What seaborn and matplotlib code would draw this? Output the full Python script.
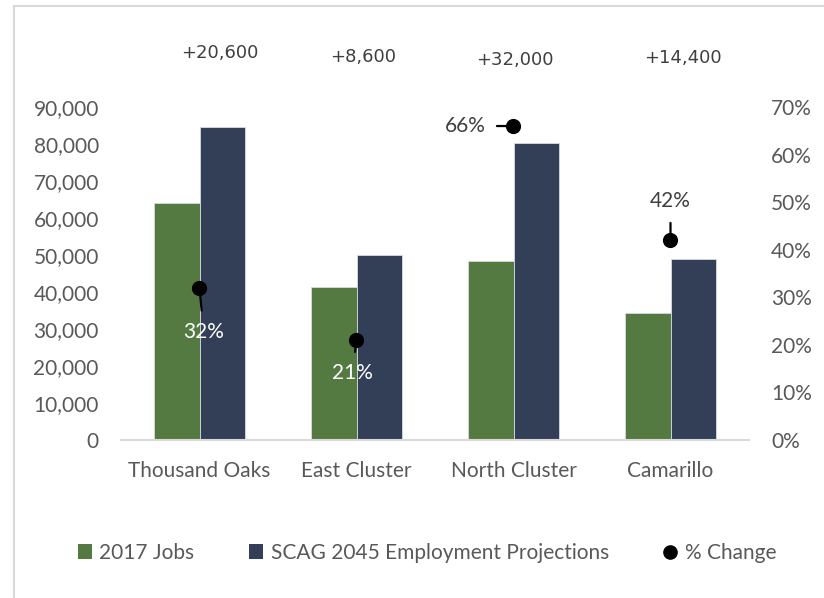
import numpy as np
import pandas as pd
import matplotlib
matplotlib.use("Agg")
import matplotlib.pyplot as plt
from matplotlib.lines import Line2D
from matplotlib.patches import Patch
from matplotlib.ticker import FuncFormatter
import matplotlib.transforms as mtransforms
import seaborn as sns

# --- data -------------------------------------------------------------
regions = ["Thousand Oaks", "East Cluster", "North Cluster", "Camarillo"]
jobs_2017 = [64000, 41400, 48400, 34400]
jobs_2045 = [84600, 50000, 80400, 48800]
job_growth = [20600, 8600, 32000, 14400]
pct_change = [0.32, 0.21, 0.66, 0.42]
series_names = ["2017 Jobs", "SCAG 2045 Employment Projections"]
pct_name = "% Change"
left_ticks = [0, 10000, 20000, 30000, 40000, 50000, 60000, 70000, 80000, 90000]
right_ticks = [0, 0.1, 0.2, 0.3, 0.4, 0.5, 0.6, 0.7]

# --- style ------------------------------------------------------------
GREEN = "#547a42"
NAVY = "#323f57"
GREY_TXT = "#595959"
DARK_TXT = "#404040"
AXIS_GREY = "#d9d9d9"

sns.set_theme(style="white")
plt.rcParams["font.family"] = ["Lato", "DejaVu Sans"]
FS = 15

df = pd.DataFrame({
    "Region": regions * 2,
    "Jobs": jobs_2017 + jobs_2045,
    "Series": [series_names[0]] * len(regions) + [series_names[1]] * len(regions),
})

fig = plt.figure(figsize=(8.24, 5.98), dpi=100)
ax = fig.add_axes([121 / 824, 1 - 440 / 598, (749 - 121) / 824, (440 - 107) / 598])

sns.barplot(data=df, x="Region", y="Jobs", hue="Series", order=regions,
            hue_order=series_names, palette=[GREEN, NAVY], saturation=1,
            width=0.575, gap=0, legend=False, ax=ax,
            edgecolor="#d6dbe2", linewidth=0.6, errorbar=None)

ax.set_xlim(-0.5, len(regions) - 0.5)
ax.set_ylim(left_ticks[0], left_ticks[-1])
ax.set_yticks(left_ticks)
ax.yaxis.set_major_formatter(FuncFormatter(lambda v, p: f"{int(v):,}"))
ax.set_xlabel("")
ax.set_ylabel("")
ax.tick_params(axis="both", length=0, labelsize=FS, labelcolor=GREY_TXT)
ax.tick_params(axis="y", pad=16)
ax.tick_params(axis="x", pad=15)
for side in ["top", "left", "right"]:
    ax.spines[side].set_visible(False)
ax.spines["bottom"].set_color(AXIS_GREY)
ax.spines["bottom"].set_linewidth(1.5)

# --- percent change on the secondary axis --------------------------------
ax2 = ax.twinx()
xpos = np.arange(len(regions))
sns.scatterplot(x=xpos, y=pct_change, color="black", s=120, ax=ax2,
                edgecolor="black", linewidth=0, zorder=5, legend=False)
ax2.set_ylim(right_ticks[0], right_ticks[-1])
ax2.set_yticks(right_ticks)
ax2.yaxis.set_major_formatter(FuncFormatter(lambda v, p: f"{v:.0%}"))
ax2.set_ylabel("")
ax2.tick_params(axis="y", length=0, labelsize=FS, labelcolor=GREY_TXT, pad=16)
for side in ["top", "left", "right", "bottom"]:
    ax2.spines[side].set_visible(False)

# label offsets (points) and colors for each percent label
label_offsets = [(3, -32), (-3, -24), (-35, 0), (0, 28)]
label_colors = ["white", "white", DARK_TXT, DARK_TXT]
for x, p, off, col in zip(xpos, pct_change, label_offsets, label_colors):
    ax2.annotate(f"{p:.0%}", xy=(x, p), xytext=off, textcoords="offset points",
                 ha="center", va="center", fontsize=FS, color=col, zorder=6,
                 arrowprops=dict(arrowstyle="-", color="black", lw=1.6,
                                 shrinkA=6, shrinkB=0))

# --- growth labels above each region -----------------------------------
growth_nudge = [0.13, 0.04, 0.01, 0.08]
growth_y = [53, 57, 60, 58]
trans = mtransforms.blended_transform_factory(ax.transData, fig.transFigure)
for x, g, dx, yy in zip(xpos, job_growth, growth_nudge, growth_y):
    ax.text(x + dx, 1 - yy / 598, f"+{g:,}", transform=trans, ha="center",
            va="center", fontsize=13, color=DARK_TXT, family="DejaVu Sans")

# --- legend ---------------------------------------------------------------
handles = [
    Patch(facecolor=GREEN, edgecolor="none", label=series_names[0]),
    Patch(facecolor=NAVY, edgecolor="none", label=series_names[1]),
    Line2D([], [], marker="o", linestyle="none", color="black",
           markersize=9.5, label=pct_name),
]
fig.legend(handles=handles, loc="center", bbox_to_anchor=(427 / 824, 1 - 553 / 598),
           ncol=3, frameon=False, fontsize=FS, labelcolor=GREY_TXT,
           handlelength=0.7, handleheight=0.7, handletextpad=0.35,
           columnspacing=2.6, borderaxespad=0)

# --- chart frame ---------------------------------------------------------
fig.add_artist(Line2D([14 / 824, 14 / 824], [0, 1 - 6 / 598], transform=fig.transFigure,
                      color=AXIS_GREY, lw=1.5))
fig.add_artist(Line2D([14 / 824, 1], [1 - 6 / 598, 1 - 6 / 598], transform=fig.transFigure,
                      color=AXIS_GREY, lw=1.5))

fig.savefig("out.png", dpi=100)
